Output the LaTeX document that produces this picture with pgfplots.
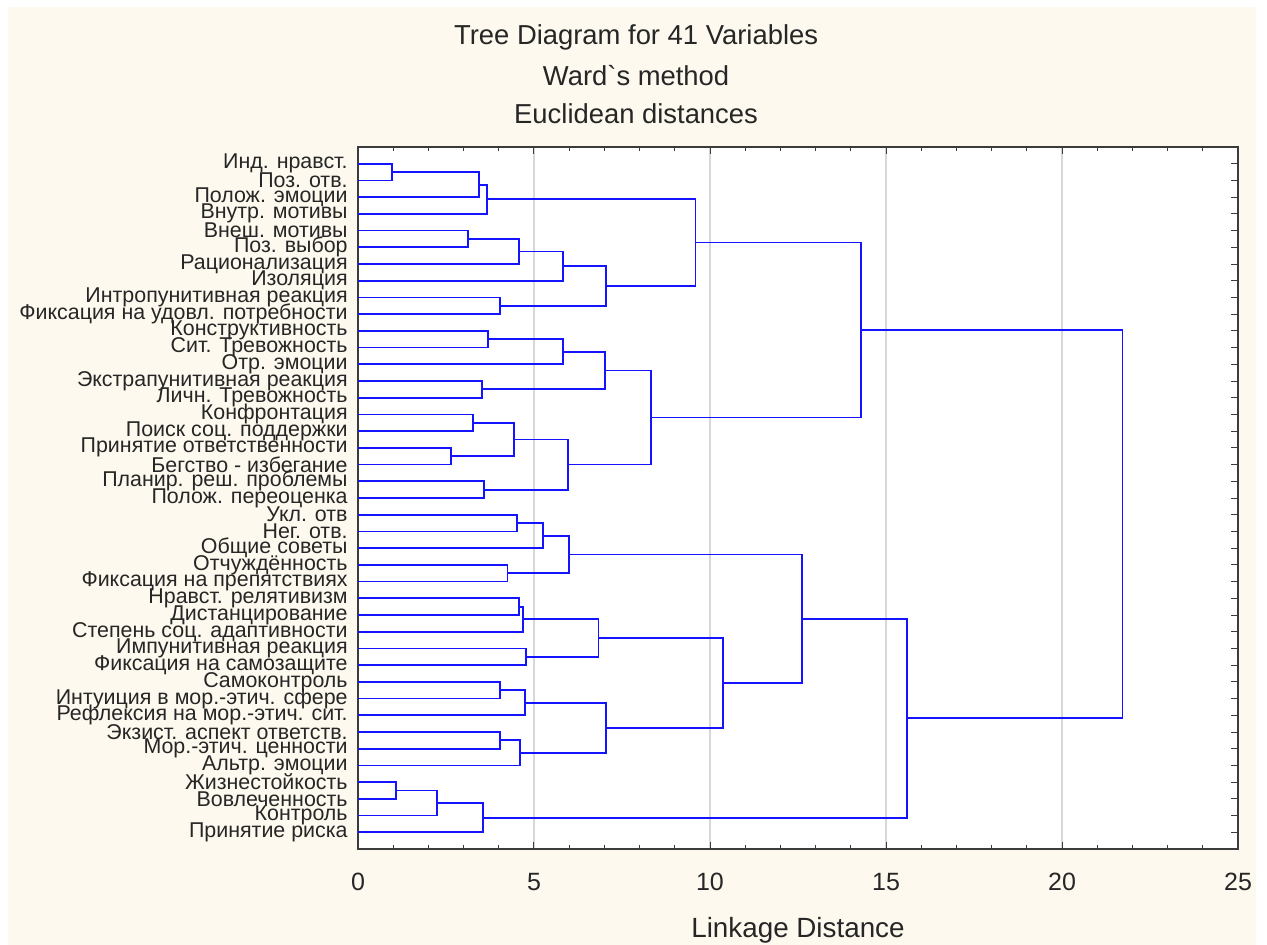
\documentclass[border=0pt]{standalone}
\usepackage{fontspec}
\setmainfont{Liberation Sans}
\usepackage{pgfplots}
\pgfplotsset{compat=1.18}

\definecolor{cream}{RGB}{253,249,238}
\definecolor{frame}{RGB}{60,60,60}
\definecolor{gridc}{RGB}{215,215,215}
\definecolor{dblue}{RGB}{20,20,255}

\begin{document}
\begin{tikzpicture}
\useasboundingbox (-179pt,-48pt) rectangle (454.5pt,424.5pt);
\fill[white] (-179pt,-48pt) rectangle (454.5pt,424.5pt);
\fill[cream] (-175pt,-48pt) rectangle (449pt,421pt);

\begin{axis}[
    scale only axis,
    width=440pt, height=351pt,
    xmin=0, xmax=25,
    ymin=0, ymax=42,
    y dir=reverse,
    axis background/.style={fill=white},
    axis line style={frame, line width=0.8pt},
    xtick={0,5,...,25},
    minor x tick num=4,
    xtick pos=both,
    tick align=inside,
    major tick length=3.5pt,
    minor tick length=2pt,
    tick style={frame, line width=0.5pt},
    xmajorgrids,
    major grid style={gridc, line width=0.6pt},
    ytick={1,...,41},
    ytick pos=right,
    yticklabel pos=left,
    y tick style={frame, line width=0.4pt},
    yticklabels={
        Инд. нравст., Поз. отв., Полож. эмоции, Внутр. мотивы, Внеш. мотивы,
        Поз. выбор, Рационализация, Изоляция, Интропунитивная реакция,
        Фиксация на удовл. потребности, Конструктивность, Сит. Тревожность,
        Отр. эмоции, Экстрапунитивная реакция, Личн. Тревожность, Конфронтация,
        Поиск соц. поддержки, Принятие ответственности, Бегство - избегание,
        Планир. реш. проблемы, Полож. переоценка, Укл. отв, Нег. отв.,
        Общие советы, Отчуждённость, Фиксация на препятствиях,
        Нравст. релятивизм, Дистанцирование, Степень соц. адаптивности,
        Импунитивная реакция, Фиксация на самозащите, Самоконтроль,
        Интуиция в мор.-этич. сфере, Рефлексия на мор.-этич. сит.,
        Экзист. аспект ответств., Мор.-этич. ценности, Альтр. эмоции,
        Жизнестойкость, Вовлеченность, Контроль, Принятие риска},
    yticklabel style={font=\fontsize{10.7}{11}\selectfont, text=black!85, anchor=east, xshift=-5pt, inner sep=0pt},
    /pgf/number format/assume math mode=true,
    xticklabel style={font=\fontsize{12.5}{12.5}\selectfont, text=black!85, anchor=center, yshift=-16.5pt},
    xlabel={Linkage Distance},
    xlabel style={font=\fontsize{13.9}{14}\selectfont, text=black!85, at={(axis description cs:0.5,0)}, anchor=center, yshift=-40.5pt},
    dend/.style={dblue, line width=0.9pt, mark=none},
    clip=false,
]

% merges: (left child) -> height -> (right child)
\addplot[dend] coordinates {(0,1) (0.97,1) (0.97,2) (0,2)};
\addplot[dend] coordinates {(0.97,1.5) (3.43,1.5) (3.43,3) (0,3)};
\addplot[dend] coordinates {(3.43,2.25) (3.66,2.25) (3.66,4) (0,4)};
\addplot[dend] coordinates {(0,5) (3.13,5) (3.13,6) (0,6)};
\addplot[dend] coordinates {(3.13,5.5) (4.57,5.5) (4.57,7) (0,7)};
\addplot[dend] coordinates {(4.57,6.25) (5.83,6.25) (5.83,8) (0,8)};
\addplot[dend] coordinates {(0,9) (4.04,9) (4.04,10) (0,10)};
\addplot[dend] coordinates {(5.83,7.125) (7.05,7.125) (7.05,9.5) (4.04,9.5)};
\addplot[dend] coordinates {(3.66,3.125) (9.59,3.125) (9.59,8.3125) (7.05,8.3125)};

\addplot[dend] coordinates {(0,11) (3.69,11) (3.69,12) (0,12)};
\addplot[dend] coordinates {(3.69,11.5) (5.83,11.5) (5.83,13) (0,13)};
\addplot[dend] coordinates {(0,14) (3.52,14) (3.52,15) (0,15)};
\addplot[dend] coordinates {(5.83,12.25) (7.01,12.25) (7.01,14.5) (3.52,14.5)};
\addplot[dend] coordinates {(0,16) (3.26,16) (3.26,17) (0,17)};
\addplot[dend] coordinates {(0,18) (2.64,18) (2.64,19) (0,19)};
\addplot[dend] coordinates {(3.26,16.5) (4.43,16.5) (4.43,18.5) (2.64,18.5)};
\addplot[dend] coordinates {(0,20) (3.59,20) (3.59,21) (0,21)};
\addplot[dend] coordinates {(4.43,17.5) (5.97,17.5) (5.97,20.5) (3.59,20.5)};
\addplot[dend] coordinates {(7.01,13.375) (8.32,13.375) (8.32,19) (5.97,19)};
\addplot[dend] coordinates {(9.59,5.71875) (14.28,5.71875) (14.28,16.1875) (8.32,16.1875)};

\addplot[dend] coordinates {(0,22) (4.51,22) (4.51,23) (0,23)};
\addplot[dend] coordinates {(4.51,22.5) (5.26,22.5) (5.26,24) (0,24)};
\addplot[dend] coordinates {(0,25) (4.25,25) (4.25,26) (0,26)};
\addplot[dend] coordinates {(5.26,23.25) (5.99,23.25) (5.99,25.5) (4.25,25.5)};
\addplot[dend] coordinates {(0,27) (4.57,27) (4.57,28) (0,28)};
\addplot[dend] coordinates {(4.57,27.5) (4.69,27.5) (4.69,29) (0,29)};
\addplot[dend] coordinates {(0,30) (4.77,30) (4.77,31) (0,31)};
\addplot[dend] coordinates {(4.69,28.25) (6.83,28.25) (6.83,30.5) (4.77,30.5)};
\addplot[dend] coordinates {(0,32) (4.04,32) (4.04,33) (0,33)};
\addplot[dend] coordinates {(4.04,32.5) (4.74,32.5) (4.74,34) (0,34)};
\addplot[dend] coordinates {(0,35) (4.04,35) (4.04,36) (0,36)};
\addplot[dend] coordinates {(4.04,35.5) (4.61,35.5) (4.61,37) (0,37)};
\addplot[dend] coordinates {(4.74,33.25) (7.05,33.25) (7.05,36.25) (4.61,36.25)};
\addplot[dend] coordinates {(6.83,29.375) (10.36,29.375) (10.36,34.75) (7.05,34.75)};
\addplot[dend] coordinates {(5.99,24.375) (12.61,24.375) (12.61,32.0625) (10.36,32.0625)};
\addplot[dend] coordinates {(0,38) (1.07,38) (1.07,39) (0,39)};
\addplot[dend] coordinates {(1.07,38.5) (2.24,38.5) (2.24,40) (0,40)};
\addplot[dend] coordinates {(2.24,39.25) (3.56,39.25) (3.56,41) (0,41)};
\addplot[dend] coordinates {(12.61,28.21875) (15.6,28.21875) (15.6,40.125) (3.56,40.125)};

\addplot[dend] coordinates {(14.28,10.953125) (21.72,10.953125) (21.72,34.171875) (15.6,34.171875)};

% three-line title, centred on the whole picture
\node[font=\fontsize{13.7}{14}\selectfont, text=black!85] at (axis description cs:0.316,1.156) {Tree Diagram for 41 Variables};
\node[font=\fontsize{13.7}{14}\selectfont, text=black!85] at (axis description cs:0.316,1.102) {Ward\textasciigrave s method};
\node[font=\fontsize{13.7}{14}\selectfont, text=black!85] at (axis description cs:0.316,1.047) {Euclidean distances};
\end{axis}
\end{tikzpicture}
\end{document}
